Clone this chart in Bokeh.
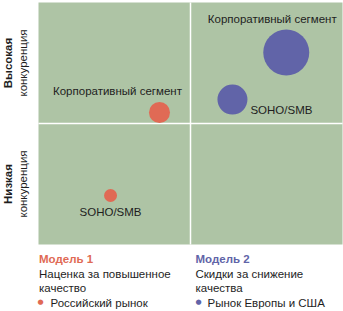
import math
from bokeh.plotting import figure
from bokeh.models import Label, ColumnDataSource, Range1d
from bokeh.core.properties import value
from bokeh.embed import file_html
from bokeh.resources import INLINE

# --- data ---
segments = ["Корпоративный сегмент", "SOHO/SMB", "Корпоративный сегмент", "SOHO/SMB"]
model = [2, 2, 1, 1]
price_x = [1.63, 1.276, 0.796, 0.474]
competition_y = [1.587, 1.198, 1.091, 0.405]
bubble_size = [46, 30, 21, 13]

quad_bounds = [0, 1, 2]
row_labels = [("Высокая", "конкуренция", 1.5), ("Низкая", "конкуренция", 0.5)]
legend_titles = ["Модель 1", "Модель 2"]
legend_desc = [["Наценка за повышенное", "качество"], ["Скидки за снижение", "качества"]]
legend_markets = ["Российский рынок", "Рынок Европы и США"]

# --- style ---
FONT_NAME = "Liberation Sans"
FONT = value(FONT_NAME)
RED = "#e06a55"
BLUE = "#6164a8"
GREEN = "#aec4a5"
TXT = "#1e1e1e"
colors = [BLUE if m == 2 else RED for m in model]
lab_dx = [-14, 18, -42, 0]
lab_dy = [-33, 10, -21, 17]
lab_align = ["center", "left", "center", "center"]

lo, mid, hi = quad_bounds
p = figure(width=343, height=311, output_backend="svg", toolbar_location=None,
           x_range=Range1d(lo - 38 / 152, hi + 1 / 152),
           y_range=Range1d(lo - 67 / 121, hi + 2 / 121),
           min_border=0)
p.axis.visible = False
p.grid.visible = False
p.outline_line_color = None
p.background_fill_color = "white"
p.border_fill_color = "white"

p.quad(left=[lo], right=[hi], bottom=[lo], top=[hi], fill_color=GREEN, line_color=None)
p.segment(x0=[mid, lo], y0=[lo, mid], x1=[mid, hi], y1=[hi, mid], line_color="white", line_width=1.5)

src = ColumnDataSource(dict(x=price_x, y=competition_y, s=bubble_size, c=colors,
                            t=segments, dx=lab_dx, dy=lab_dy, al=lab_align))
p.scatter("x", "y", size="s", fill_color="c", line_color=None, source=src)
p.text("x", "y", text="t", x_offset="dx", y_offset="dy", text_align="al",
       text_baseline="middle", text_font=FONT, text_font_size="11.5px",
       text_color=TXT, source=src)

for bold, normal, yy in row_labels:
    p.add_layout(Label(x=lo, y=yy, x_offset=-30.5, text=bold, angle=math.pi / 2,
                       text_align="center", text_baseline="middle", text_font=FONT_NAME,
                       text_font_size="11.5px", text_font_style="bold", text_color=TXT))
    p.add_layout(Label(x=lo, y=yy, x_offset=-15.5, text=normal, angle=math.pi / 2,
                       text_align="center", text_baseline="middle", text_font=FONT_NAME,
                       text_font_size="11.5px", text_color=TXT))

col_x = [lo, mid]
col_dx = [0.5, 5]
bullet_dx = [2, 8]
mtext_dx = [12, 17]
lcolors = [RED, BLUE]
for i in range(2):
    p.add_layout(Label(x=col_x[i], y=lo, x_offset=col_dx[i], y_offset=-14, text=legend_titles[i],
                       text_align="left", text_baseline="middle", text_font=FONT_NAME,
                       text_font_size="11.5px", text_font_style="bold", text_color=lcolors[i]))
    for j, line in enumerate(legend_desc[i]):
        p.add_layout(Label(x=col_x[i], y=lo, x_offset=col_dx[i], y_offset=-29 - 14 * j, text=line,
                           text_align="left", text_baseline="middle", text_font=FONT_NAME,
                           text_font_size="11.5px", text_color=TXT))
    p.add_layout(Label(x=col_x[i], y=lo, x_offset=bullet_dx[i], y_offset=-57, text="●",
                       text_align="center", text_baseline="middle", text_font="DejaVu Sans",
                       text_font_size="7px", text_color=lcolors[i]))
    p.add_layout(Label(x=col_x[i], y=lo, x_offset=mtext_dx[i], y_offset=-58, text=legend_markets[i],
                       text_align="left", text_baseline="middle", text_font=FONT_NAME,
                       text_font_size="11.5px", text_color=TXT))

open("out.html", "w").write(file_html(p, INLINE))
